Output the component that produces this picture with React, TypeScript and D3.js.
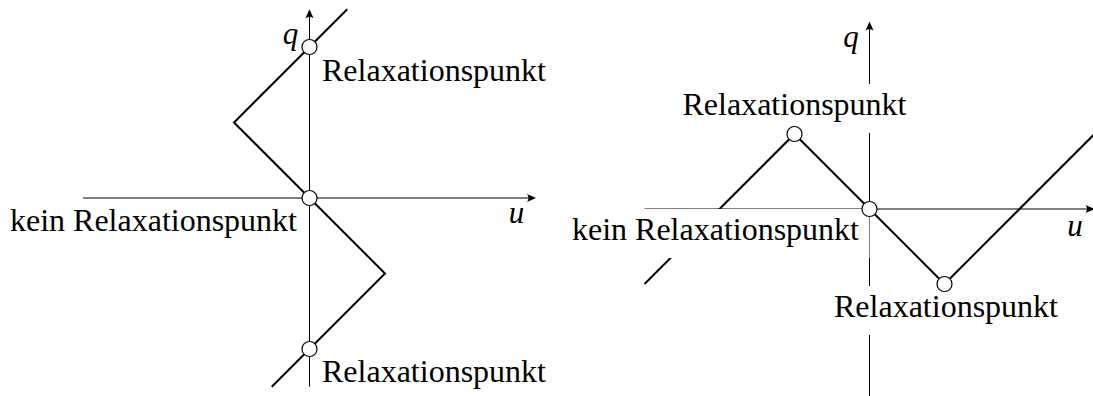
import React, { useEffect, useRef } from "react";
import * as d3 from "d3";

// ---- data (math units: u horizontal, q vertical) ----
const leftCurveU = [-0.5, 1, -1, 0.5];
const leftCurveQ = [-2.5, -1, 1, 2.5];
const leftPointsU = [0, 0, 0];
const leftPointsQ = [2, 0, -2];

const rightCurveU = [-3, -2, -1, 1, 3];
const rightCurveQ = [-1, 0, 1, -1, 1];
const rightPointsU = [-1, 0, 1];
const rightPointsQ = [1, 0, -1];

const axisU = [-3, 3];
const axisQ = [-2.5, 2.5];

const labelRelax = "Relaxationspunkt";
const labelKein = "kein Relaxationspunkt";

const W = 1093;
const H = 396;

export default function App() {
  const ref = useRef<SVGSVGElement | null>(null);

  useEffect(() => {
    const svg = d3.select(ref.current);
    svg.selectAll("*").remove();

    const panels = [
      {
        x: d3.scaleLinear().domain([-3, 3]).range([309.5 - 226.5, 309.5 + 226.5]),
        y: d3.scaleLinear().domain([-2.5, 2.5]).range([198 + 2.5 * 75.5, 198 - 2.5 * 75.5]),
        cu: leftCurveU, cq: leftCurveQ, pu: leftPointsU, pq: leftPointsQ,
        labels: [
          { u: 0, q: 2, dx: 12.5, dy: 34, anchor: "start", text: labelRelax, box: false, padR: 10 },
          { u: 0, q: 0, dx: -12.5, dy: 33, anchor: "end", text: labelKein, box: false, padR: 10 },
          { u: 0, q: -2, dx: 12.5, dy: 33, anchor: "start", text: labelRelax, box: false, padR: 10 },
        ],
        uLab: { dx: -19.5, dy: 25 },
        qLab: { dx: -19, dy: 35 },
      },
      {
        x: d3.scaleLinear().domain([-3, 3]).range([869.5 - 225, 869.5 + 225]),
        y: d3.scaleLinear().domain([-2.5, 2.5]).range([209 + 187.5, 209 - 187.5]),
        cu: rightCurveU, cq: rightCurveQ, pu: rightPointsU, pq: rightPointsQ,
        labels: [
          { u: -1, q: 1, dx: 0, dy: -19, anchor: "middle", text: labelRelax, box: true, padR: 10 },
          { u: 0, q: 0, dx: -10.5, dy: 31, anchor: "end", text: labelKein, box: true, padR: 10.5 },
          { u: 1, q: -1, dx: 1.5, dy: 33, anchor: "middle", text: labelRelax, box: true, padR: 10 },
        ],
        uLab: { dx: -19.5, dy: 27 },
        qLab: { dx: -18.5, dy: 47 - 21.5 },
      },
    ];

    const arrow = (g: any, x: number, y: number, dir: "right" | "up") => {
      const p =
        dir === "right"
          ? `M${x},${y} L${x - 9},${y - 4} Q${x - 6},${y} ${x - 9},${y + 4} Z`
          : `M${x},${y} L${x - 4},${y + 9} Q${x},${y + 6} ${x + 4},${y + 9} Z`;
      g.append("path").attr("d", p).attr("fill", "#000");
    };

    panels.forEach((P) => {
      const g = svg.append("g");
      const x0 = P.x(0);
      const y0 = P.y(0);
      // axes
      g.append("line")
        .attr("x1", P.x(axisU[0])).attr("x2", P.x(axisU[1]) - 4)
        .attr("y1", y0).attr("y2", y0)
        .attr("stroke", "#000").attr("stroke-width", 1);
      arrow(g, P.x(axisU[1]), y0, "right");
      g.append("line")
        .attr("x1", x0).attr("x2", x0)
        .attr("y1", P.y(axisQ[0])).attr("y2", P.y(axisQ[1]) + 4)
        .attr("stroke", "#000").attr("stroke-width", 1);
      arrow(g, x0, P.y(axisQ[1]), "up");

      // curve
      const pts: [number, number][] = P.cu.map((u, i) => [P.x(u), P.y(P.cq[i])]);
      g.append("path")
        .attr("d", d3.line()(pts) as string)
        .attr("fill", "none").attr("stroke", "#000")
        .attr("stroke-width", 2).attr("stroke-linejoin", "miter");

      // labels
      P.labels.forEach((L) => {
        const lx = P.x(L.u) + L.dx;
        const ly = P.y(L.q) + L.dy;
        const rect = g.append("rect").attr("fill", "#fff");
        const t = g.append("text")
          .attr("x", lx).attr("y", ly)
          .attr("text-anchor", L.anchor)
          .attr("font-family", "Liberation Serif, Times New Roman, serif")
          .attr("font-size", 32)
          .attr("fill", "#000")
          .text(L.text);
        if (L.box) {
          const bb = (t.node() as SVGTextElement).getBBox();
          const left = bb.x - 10;
          const right = L.anchor === "end" ? lx + L.padR : bb.x + bb.width + L.padR;
          rect.attr("x", left).attr("width", right - left)
            .attr("y", ly - 31).attr("height", 49);
        } else {
          rect.remove();
        }
      });

      // axis letters
      g.append("text")
        .attr("x", P.x(axisU[1]) + P.uLab.dx).attr("y", y0 + P.uLab.dy)
        .attr("text-anchor", "middle")
        .attr("font-family", "Liberation Serif, serif").attr("font-style", "italic")
        .attr("font-size", 31).text("u");
      g.append("text")
        .attr("x", x0 + P.qLab.dx).attr("y", P.y(axisQ[1]) + P.qLab.dy)
        .attr("text-anchor", "middle")
        .attr("font-family", "Liberation Serif, serif").attr("font-style", "italic")
        .attr("font-size", 31).text("q");

      // circles
      P.pu.forEach((u, i) => {
        g.append("circle")
          .attr("cx", P.x(u)).attr("cy", P.y(P.pq[i])).attr("r", 7.5)
          .attr("fill", "#fff").attr("stroke", "#000").attr("stroke-width", 1.2);
      });
    });
  }, []);

  return (
    <svg
      ref={ref}
      width={W}
      height={H}
      style={{ position: "absolute", left: 0, top: 0, background: "#fff" }}
    />
  );
}
